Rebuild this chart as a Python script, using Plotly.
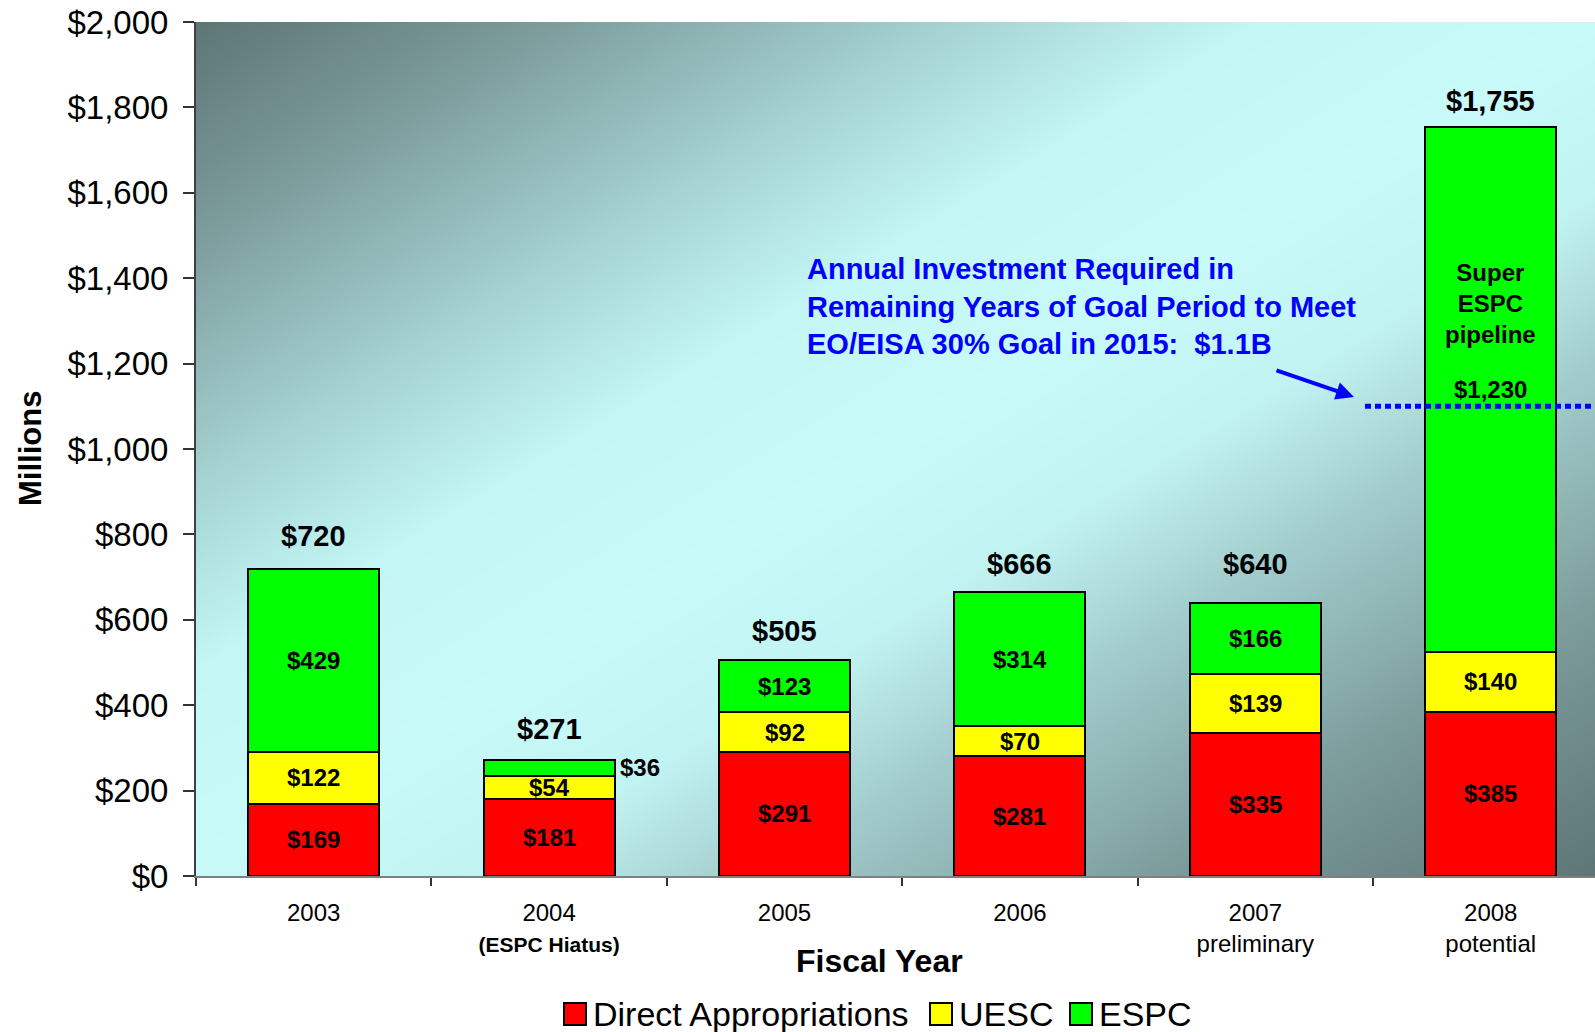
import plotly.graph_objects as go

# ---------------- data ----------------
years = ["2003", "2004", "2005", "2006", "2007", "2008"]
tick_labels = ["2003",
               "2004<br><b><span style='font-size:21px'>(ESPC Hiatus)</span></b>",
               "2005", "2006", "2007<br>preliminary", "2008<br>potential"]
series_names = ["Direct Appropriations", "UESC", "ESPC"]
direct_approp = [169, 181, 291, 281, 335, 385]
uesc = [122, 54, 92, 70, 139, 140]
espc = [429, 36, 123, 314, 166, 1230]
totals = [720, 271, 505, 666, 640, 1755]
goal_value = 1100
y_ticks = list(range(0, 2001, 200))

series_values = [direct_approp, uesc, espc]
series_colors = ["#ff0000", "#ffff00", "#00ff00"]

FONT = "Liberation Sans, Arial, sans-serif"

# ---------------- geometry helpers ----------------
W, H = 1595, 1032
ML, MR, MT, MB = 196, 0, 22, 156
PW, PH = W - ML - MR, H - MT - MB
X_MAX = 5.443
CAT_W = PW / (X_MAX + 0.5)


def px(xp):
    return (xp - ML) / PW


def py(yp):
    return (H - MB - yp) / PH


fig = go.Figure()

# background gradient (decorative)
N = 80
gx = [-0.5 + (X_MAX + 0.5) * i / (N - 1) for i in range(N)]
gy = [2000 * j / (N - 1) for j in range(N)]
gz = [[(i / (N - 1) + (1 - j / (N - 1))) / 2 for i in range(N)] for j in range(N)]
fig.add_trace(go.Heatmap(
    x=gx, y=gy, z=gz, zmin=0, zmax=1, zsmooth="best", showscale=False, hoverinfo="skip",
    colorscale=[[0, "#5d7575"], [0.12, "#7b9a9a"], [0.28, "#a8d6d6"], [0.38, "#c4f6f6"],
                [0.5, "#c8fafa"], [0.6, "#c2f3f3"], [0.7, "#a2cccc"], [0.85, "#7b9a9a"],
                [1, "#5d7575"]]))

xs = list(range(len(years)))
for name, vals, col in zip(series_names, series_values, series_colors):
    fig.add_trace(go.Bar(
        x=xs, y=vals, name=name, width=0.557, showlegend=False,
        marker=dict(color=col, line=dict(color="black", width=2))))

annotations = []
# segment labels
for i in xs:
    base = 0
    for s, vals in enumerate(series_values):
        v = vals[i]
        mid = base + v / 2
        if v < 45:
            annotations.append(dict(x=i + 0.557 / 2, y=mid, xref="x", yref="y", text=f"<b>${v:,}</b>",
                                    showarrow=False, xanchor="left", yanchor="middle", xshift=3,
                                    font=dict(family=FONT, size=24, color="black")))
        else:
            annotations.append(dict(x=i, y=mid, xref="x", yref="y", text=f"<b>${v:,}</b>",
                                    showarrow=False, xanchor="center", yanchor="middle",
                                    font=dict(family=FONT, size=24, color="black")))
        if i == 5 and s == 2:
            annotations.append(dict(x=i, y=mid, xref="x", yref="y", yshift=86,
                                    xanchor="center", yanchor="middle",
                                    text="<b>Super<br>ESPC<br>pipeline</b>", showarrow=False,
                                    font=dict(family=FONT, size=24, color="black")))
        base += v

# totals
total_shift = [33, 31, 29, 28, 39, 26]
for i, t in enumerate(totals):
    annotations.append(dict(x=i, y=t, xref="x", yref="y", yshift=total_shift[i],
                            xanchor="center", yanchor="middle",
                            text=f"<b>${t:,}</b>", showarrow=False,
                            font=dict(family=FONT, size=29, color="black")))

# goal annotation text
annotations.append(dict(
    x=px(805), y=py(306), xref="paper", yref="paper", xanchor="left", yanchor="middle", align="left",
    text="<b>Annual Investment Required in<br>Remaining Years of Goal Period to Meet<br>"
         "EO/EISA 30% Goal in 2015:  $1.1B</b>",
    showarrow=False, font=dict(family=FONT, size=29, color="#0000ff")))
# arrow
annotations.append(dict(
    x=(1354 - ML) / CAT_W - 0.5, y=goal_value + 22, xref="x", yref="y", text="",
    showarrow=True, ax=-79, ay=-27, axref="pixel", ayref="pixel",
    arrowhead=2, arrowsize=0.9, arrowwidth=4, arrowcolor="#0000ff"))

# axis titles
annotations.append(dict(x=px(30), y=0.5, xref="paper", yref="paper", text="<b>Millions</b>",
                        xanchor="center", yanchor="middle",
                        textangle=-90, showarrow=False, font=dict(family=FONT, size=31, color="black")))
annotations.append(dict(x=px(879), y=py(961), xref="paper", yref="paper", text="<b>Fiscal Year</b>",
                        xanchor="center", yanchor="middle",
                        showarrow=False, font=dict(family=FONT, size=32, color="black")))

# manual legend
shapes = []
legend_pos = [(564, 591), (930, 957), (1070, 1097)]
for (sx, tx), name, col in zip(legend_pos, series_names, series_colors):
    shapes.append(dict(type="rect", xref="paper", yref="paper", x0=px(sx), x1=px(sx + 22),
                       y0=py(1025), y1=py(1003), fillcolor=col, line=dict(color="black", width=2)))
    annotations.append(dict(x=px(tx), y=py(1014), xref="paper", yref="paper", xanchor="left",
                            yanchor="middle", text=name, showarrow=False,
                            font=dict(family=FONT, size=34, color="black")))

# goal dotted line
shapes.append(dict(type="line", xref="x", yref="y", x0=(1365 - ML) / CAT_W - 0.5, x1=X_MAX,
                   y0=goal_value, y1=goal_value, line=dict(color="#0000ff", width=5, dash="6px,4px")))

fig.update_layout(
    width=W, height=H, margin=dict(l=ML, r=MR, t=MT, b=MB),
    paper_bgcolor="white", plot_bgcolor="white", barmode="stack", bargap=0,
    showlegend=False, annotations=annotations, shapes=shapes,
    font=dict(family=FONT, color="black"),
    xaxis=dict(range=[-0.5, X_MAX], tickmode="array", tickvals=xs, ticktext=tick_labels,
               ticks="", showgrid=False, zeroline=False, showline=True, linecolor="#808080",
               linewidth=2, tickfont=dict(family=FONT, size=24, color="black"),
               ticklabelstandoff=14,
               minor=dict(tickmode="array", tickvals=[-0.5, 0.5, 1.5, 2.5, 3.5, 4.5],
                          ticks="outside", ticklen=8, tickwidth=1.5, tickcolor="#333333")),
    yaxis=dict(range=[0, 2000], tickmode="array", tickvals=y_ticks,
               ticktext=[f"${v:,}" for v in y_ticks], ticks="outside", ticklen=11,
               tickwidth=1.5, tickcolor="#333333", showgrid=False, zeroline=False,
               showline=True, linecolor="#404040", linewidth=2,
               tickfont=dict(family=FONT, size=33, color="black"), ticklabelstandoff=8),
)

fig.write_html("out.html", config={"displayModeBar": False},
               post_script="document.body.style.margin='0';"
                           "document.documentElement.style.overflow='hidden';")
